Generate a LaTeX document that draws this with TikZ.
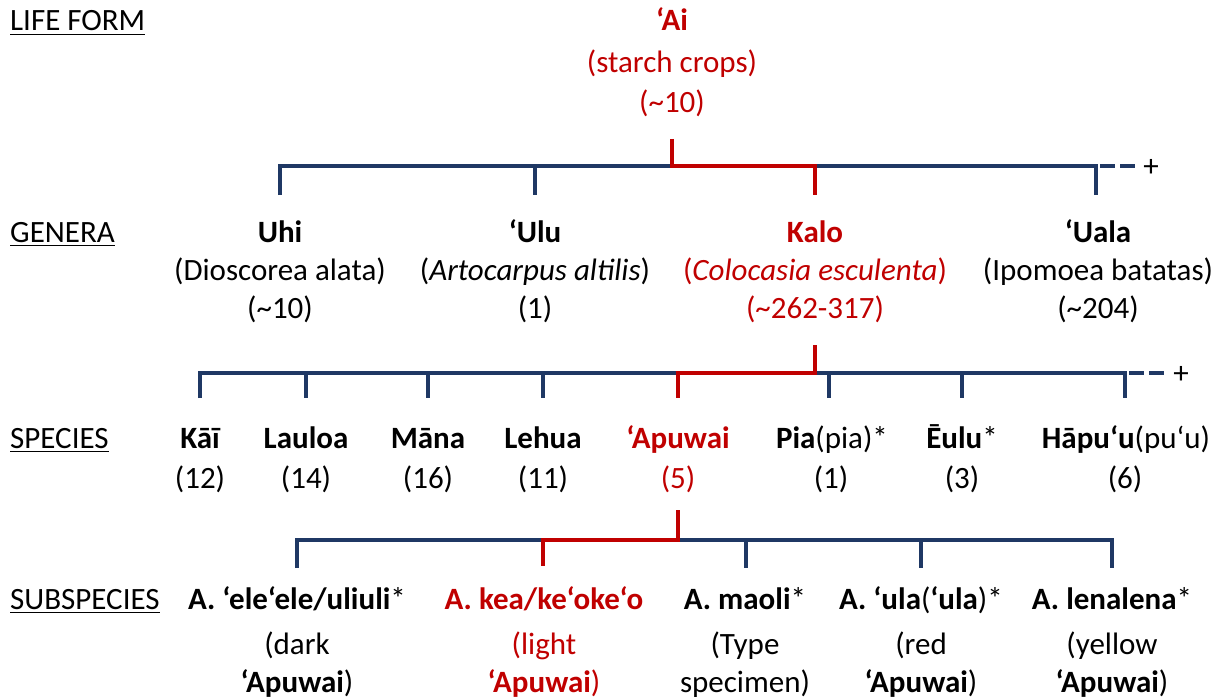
\documentclass[tikz,border=0pt]{standalone}
\usepackage{fontspec}
\setmainfont{Carlito}
\definecolor{kred}{HTML}{C00000}
\definecolor{kblue}{HTML}{1F3864}
\begin{document}
\begin{tikzpicture}[x=1pt,y=-1pt,
  txt/.style={inner sep=0pt, anchor=base, font=\fontsize{31}{37}\selectfont},
  rtxt/.style={txt, text=kred},
  lvl/.style={txt, anchor=base west},
  bl/.style={draw=kblue, line width=3.5pt},
  rl/.style={draw=kred, line width=4pt},
  dsh/.style={draw=kblue, line width=3.5pt, dash pattern=on 15pt off 5pt},
  uline/.style={draw=black, line width=1.6pt}
]
\useasboundingbox (0,0) rectangle (1215,698);

% level labels
\node[lvl] (lf) at (10,31) {LIFE FORM};
\node[lvl] (ge) at (10,242) {GENERA};
\node[lvl] (sp) at (10,448) {SPECIES};
\node[lvl] (ss) at (10,609) {SUBSPECIES};
\foreach \n in {lf,ge,sp,ss}
  \draw[uline] ([yshift=-3.5pt]\n.base west) -- ([yshift=-3.5pt]\n.base east);

% life form
\node[rtxt] (ai) at (672,31) {\bfseries ‘Ai};
\node[rtxt] (ai2) at (672,73) {(starch crops)};
\node[rtxt] (ai3) at (672,113) {(\textasciitilde10)};

% genera
\node[txt] (uhi) at (280,242) {\bfseries Uhi};
\node[txt] (uhi2) at (280,280) {(Dioscorea alata)};
\node[txt] (uhi3) at (280,318) {(\textasciitilde10)};
\node[txt] (ulu) at (535,242) {\bfseries ‘Ulu};
\node[txt] (ulu2) at (535,280) {(\textit{Artocarpus altilis})};
\node[txt] (ulu3) at (535,318) {(1)};
\node[rtxt] (kalo) at (815,242) {\bfseries Kalo};
\node[rtxt] (kalo2) at (815,280) {(\textit{Colocasia esculenta})};
\node[rtxt] (kalo3) at (815,318) {(\textasciitilde262-317)};
\node[txt] (uala) at (1098,242) {\bfseries ‘Uala};
\node[txt] (uala2) at (1098,280) {(Ipomoea batatas)};
\node[txt] (uala3) at (1098,318) {(\textasciitilde204)};

% species
\node[txt] (kai) at (200,448) {\bfseries Kāī};
\node[txt] (kai2) at (200,488) {(12)};
\node[txt] (lau) at (306,448) {\bfseries Lauloa};
\node[txt] (lau2) at (306,488) {(14)};
\node[txt] (mana) at (428,448) {\bfseries Māna};
\node[txt] (mana2) at (428,488) {(16)};
\node[txt] (leh) at (543,448) {\bfseries Lehua};
\node[txt] (leh2) at (543,488) {(11)};
\node[rtxt] (apu) at (678,448) {\bfseries ‘Apuwai};
\node[rtxt] (apu2) at (678,488) {(5)};
\node[txt] (pia) at (832,448) {\textbf{Pia}(pia)*};
\node[txt] (pia2) at (831,488) {(1)};
\node[txt] (eulu) at (962,448) {\textbf{Ēulu}*};
\node[txt] (eulu2) at (962,488) {(3)};
\node[txt] (hap) at (1126,448) {\textbf{Hāpu‘u}(pu‘u)};
\node[txt] (hap2) at (1125,488) {(6)};

% subspecies
\node[txt] (s1) at (297,609) {\textbf{A. ‘ele‘ele/uliuli}*};
\node[txt] (s1b) at (297,654) {(dark};
\node[txt] (s1c) at (297,692) {\textbf{‘Apuwai})};
\node[rtxt] (s2) at (544,609) {\textbf{A. kea/ke‘oke‘o}};
\node[rtxt] (s2b) at (544,654) {(light};
\node[rtxt] (s2c) at (544,692) {\textbf{‘Apuwai})};
\node[txt] (s3) at (745,609) {\textbf{A. maoli}*};
\node[txt] (s3b) at (745,654) {(Type};
\node[txt] (s3c) at (745,692) {specimen)};
\node[txt] (s4) at (921,609) {\textbf{A. ‘ula}(\textbf{‘ula})*};
\node[txt] (s4b) at (921,654) {(red};
\node[txt] (s4c) at (921,692) {\textbf{‘Apuwai})};
\node[txt] (s5) at (1112,609) {\textbf{A. lenalena}*};
\node[txt] (s5b) at (1112,654) {(yellow};
\node[txt] (s5c) at (1112,692) {\textbf{‘Apuwai})};

% --- tree 1 coordinates
\coordinate (aiS) at (672,139);
\coordinate (aiJ) at (672,166);
\coordinate (uhiT) at (280,195);
\coordinate (uluT) at (535,195);
\coordinate (kaloT) at (815,195);
\coordinate (ualaT) at (1096,195);
\coordinate (g0) at (1100,166);
\coordinate (g1) at (1137,166);
\draw[bl] (uhiT) |- (aiJ);
\draw[bl] (kaloT |- aiJ) -| (ualaT);
\draw[bl] (uluT |- aiJ) -- (uluT);
\draw[dsh] (g0) -- (g1);
\node[txt] (plus1) at (1151,176) {+};
\draw[rl] (aiS) -- (aiJ) -| (kaloT);

% --- tree 2
\coordinate (kaloS) at (815,345);
\coordinate (kaloJ) at (815,373);
\coordinate (kaiT) at (200,398);
\coordinate (lauT) at (306,398);
\coordinate (manaT) at (428,398);
\coordinate (lehT) at (543,398);
\coordinate (apuT) at (678,398);
\coordinate (piaT) at (829,398);
\coordinate (euluT) at (962,398);
\coordinate (hapT) at (1125,398);
\coordinate (h0) at (1129,373);
\coordinate (h1) at (1166,373);
\draw[bl] (kaiT) |- (kaloJ) -| (hapT);
\foreach \c in {lauT,manaT,lehT,piaT,euluT}
  \draw[bl] (\c |- kaloJ) -- (\c);
\draw[dsh] (h0) -- (h1);
\node[txt] (plus2) at (1181,383) {+};
\draw[rl] (kaloS) -- (kaloJ) -| (apuT);

% --- tree 3
\coordinate (apuS) at (678,510);
\coordinate (apuJ) at (678,540);
\coordinate (s1T) at (297,568);
\coordinate (s2T) at (543,566);
\coordinate (s3T) at (746,568);
\coordinate (s4T) at (921,568);
\coordinate (s5T) at (1112,568);
\draw[bl] (s1T) |- (apuJ) -| (s5T);
\foreach \c in {s3T,s4T}
  \draw[bl] (\c |- apuJ) -- (\c);
\draw[rl] (apuS) -- (apuJ) -| (s2T);
\end{tikzpicture}
\end{document}
